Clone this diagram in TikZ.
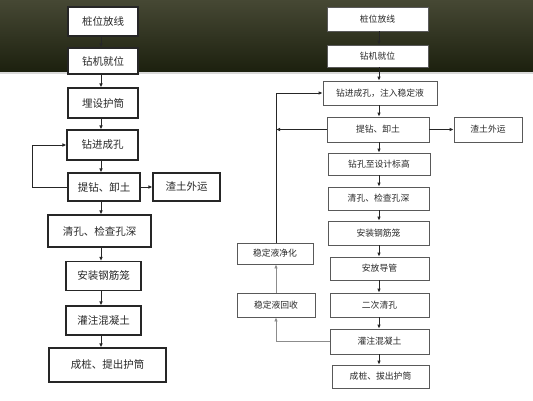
\documentclass[tikz,border=0pt]{standalone}
\usepackage{fontspec}
\newfontfamily\cjk{Noto Sans CJK SC}
\usetikzlibrary{arrows.meta}
\definecolor{bandtop}{RGB}{70,72,52}
\definecolor{bandbot}{RGB}{28,32,14}
\definecolor{txt}{RGB}{40,40,40}
\begin{document}
\begin{tikzpicture}[x=1pt,y=-1pt,
  lbox/.style={draw=black!85,line width=1.1pt,fill=white,inner sep=0pt,text=txt,font=\cjk\fontsize{10.5}{12}\selectfont},
  rbox/.style={draw=black!65,line width=0.8pt,fill=white,inner sep=0pt,text=txt,font=\cjk\fontsize{8.8}{10}\selectfont},
  arr/.style={draw=black!85,line width=0.8pt,-{Latex[length=4pt,width=3.6pt]}},
  garr/.style={draw=black!45,line width=0.8pt,-{Latex[length=4pt,width=3.6pt]}},
  ln/.style={draw=black!80,line width=0.8pt}]
\useasboundingbox (0,0) rectangle (533,400);
\fill[white] (0,0) rectangle (533,400);
\shade[top color=bandtop,bottom color=bandbot] (0,0) rectangle (533,72);
\fill[black!15] (0,72) rectangle (533,73.5);
% left column
\node[lbox,minimum width=70,minimum height=29] (L1) at (103,21.5) {桩位放线};
\node[lbox,minimum width=70,minimum height=26] (L2) at (103,61) {钻机就位};
\node[lbox,minimum width=70,minimum height=30] (L3) at (103,103) {埋设护筒};
\node[lbox,minimum width=71,minimum height=30] (L4) at (102.5,145) {钻进成孔};
\node[lbox,minimum width=72,minimum height=28] (L5) at (104,187) {提钻、卸土};
\node[lbox,minimum width=67,minimum height=28] (L6) at (186.5,187) {渣土外运};
\node[lbox,minimum width=103,minimum height=32] (L7) at (99.5,231) {清孔、检查孔深};
\node[lbox,minimum width=75,minimum height=29] (L8) at (103.5,276) {安装钢筋笼};
\node[lbox,minimum width=75,minimum height=29] (L9) at (103.5,320.5) {灌注混凝土};
\node[lbox,minimum width=117,minimum height=34] (L10) at (107.5,365) {成桩、提出护筒};
\coordinate (ax) at (101,0);
\coordinate (lx) at (32,0);
\draw[arr] (L1.south -| ax) -- (L2.north -| ax);
\draw[arr] (L2.south -| ax) -- (L3.north -| ax);
\draw[arr] (L3.south -| ax) -- (L4.north -| ax);
\draw[arr] (L4.south -| ax) -- (L5.north -| ax);
\draw[arr] (L5.south -| ax) -- (L7.north -| ax);
\draw[arr] (L7.south -| ax) -- (L8.north -| ax);
\draw[arr] (L8.south -| ax) -- (L9.north -| ax);
\draw[arr] (L9.south -| ax) -- (L10.north -| ax);
\draw[arr] (L5.east) -- (L6.west);
\draw[arr] (L5.west) -- (L5.west -| lx) |- (L4.west);
% right column
\node[rbox,minimum width=101,minimum height=24] (R1) at (377.5,19) {桩位放线};
\node[rbox,minimum width=101,minimum height=22] (R2) at (377.5,56) {钻机就位};
\node[rbox,minimum width=114,minimum height=24] (R3) at (380,93) {钻进成孔，注入稳定液};
\node[rbox,minimum width=102,minimum height=25] (R4) at (378,129.5) {提钻、卸土};
\node[rbox,minimum width=68,minimum height=25] (R5) at (488,129.5) {渣土外运};
\node[rbox,minimum width=102,minimum height=22] (R6) at (379,164) {钻孔至设计标高};
\node[rbox,minimum width=101,minimum height=23] (R7) at (378.5,198.5) {清孔、检查孔深};
\node[rbox,minimum width=101,minimum height=24] (R8) at (378.5,233) {安装钢筋笼};
\node[rbox,minimum width=99,minimum height=23] (R9) at (379.5,268.5) {安放导管};
\node[rbox,minimum width=99,minimum height=24] (R10) at (379.5,305) {二次清孔};
\node[rbox,minimum width=99,minimum height=25] (R11) at (379.5,341.5) {灌注混凝土};
\node[rbox,minimum width=97,minimum height=23] (R12) at (380.5,376.5) {成桩、拔出护筒};
\node[rbox,minimum width=76,minimum height=21] (S1) at (275,253.5) {稳定液净化};
\node[rbox,minimum width=78,minimum height=24] (S2) at (276,305) {稳定液回收};
\coordinate (rx) at (379,0);
\coordinate (lp) at (276,0);
\draw[arr] (R1.south -| rx) -- (R2.north -| rx);
\draw[arr] (R2.south -| rx) -- (R3.north -| rx);
\draw[arr] (R3.south -| rx) -- (R4.north -| rx);
\draw[arr] (R4.south -| rx) -- (R6.north -| rx);
\draw[arr] (R6.south -| rx) -- (R7.north -| rx);
\draw[arr] (R7.south -| rx) -- (R8.north -| rx);
\draw[arr] (R8.south -| rx) -- (R9.north -| rx);
\draw[arr] (R9.south -| rx) -- (R10.north -| rx);
\draw[arr] (R10.south -| rx) -- (R11.north -| rx);
\draw[arr] (R11.south -| rx) -- (R12.north -| rx);
\draw[arr] (R4.east) -- (R5.west);
\draw[arr] (R4.west) -- (R4.west -| lp);
\draw[arr] (S1.north -| lp) |- (R3.west);
\draw[garr] (R11.west) -| (S2.south -| lp);
\draw[garr] (S2.north -| lp) -- (S1.south -| lp);
\end{tikzpicture}
\end{document}
